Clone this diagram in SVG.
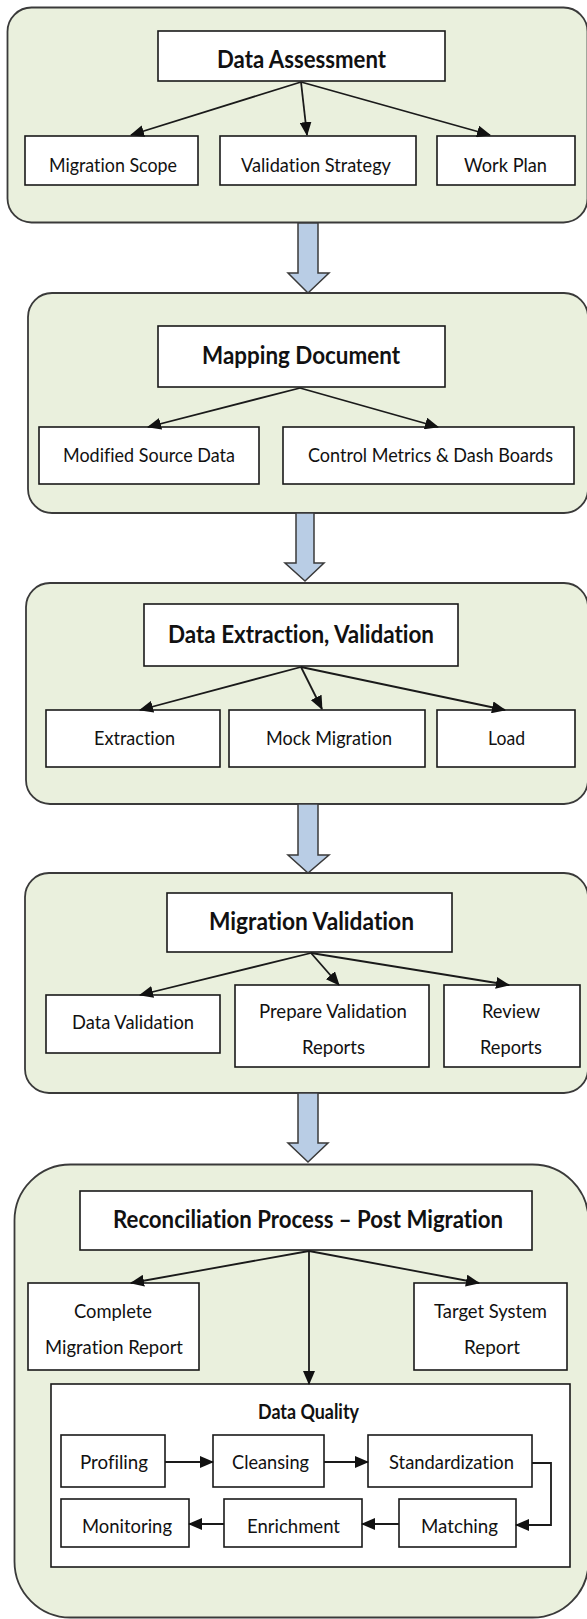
<svg xmlns="http://www.w3.org/2000/svg" width="587" height="1619" viewBox="0 0 587 1619">
<style>
.cont{fill:#EAF0DD;stroke:#3a3a3a;stroke-width:1.8}
.box{fill:#fff;stroke:#1a1a1a;stroke-width:1.6}
.blk{fill:#B9CDE5;stroke:#3a3a3a;stroke-width:1.5}
.t{font-family:Lato,"Liberation Sans",sans-serif;font-size:20px;fill:#111;text-anchor:middle;font-variant-ligatures:none}
.h{font-family:Lato,"Liberation Sans",sans-serif;font-size:25px;font-weight:bold;fill:#111;text-anchor:middle;font-variant-ligatures:none}
.c{fill:none;stroke:#1a1a1a;stroke-width:1.8}
</style>
<defs>
<marker id="ah" markerUnits="userSpaceOnUse" markerWidth="14" markerHeight="12" viewBox="0 0 14 12" refX="13" refY="6" orient="auto">
<path d="M0,0 L14,6 L0,12 z" fill="#111"/>
</marker>
</defs>
<rect width="587" height="1619" fill="#fff"/>

<g id="stage1">
<rect class="cont" x="7.5" y="7.5" width="580" height="215" rx="24"/>
</g>
<g id="stage2">
<rect class="cont" x="28" y="293" width="560" height="220" rx="24"/>
</g>
<g id="stage3">
<rect class="cont" x="26" y="583" width="562" height="221" rx="24"/>
</g>
<g id="stage4">
<rect class="cont" x="25" y="873" width="563" height="220" rx="24"/>
</g>
<g id="stage5">
<rect class="cont" x="14.5" y="1164.5" width="574" height="453" rx="56"/>
</g>

<g id="blockarrows">
<path class="blk" d="M298,223 L318,223 L318,273 L329,273 L308,293 L288,273 L298,273 z"/>
<path class="blk" d="M296,513 L314,513 L314,563 L324,563 L305,581 L285,563 L296,563 z"/>
<path class="blk" d="M298,804 L318,804 L318,855 L329,855 L308,873 L288,855 L298,855 z"/>
<path class="blk" d="M298,1093 L318,1093 L318,1143 L328,1143 L308,1162 L288,1143 L298,1143 z"/>
</g>

<g id="data-assessment"><rect class="box" x="158" y="31" width="287" height="50"/><text class="h" x="301.5" y="68" textLength="169" lengthAdjust="spacingAndGlyphs">Data Assessment</text></g>
<g id="migration-scope"><rect class="box" x="25" y="136" width="173" height="49"/><text class="t" x="113" y="172" textLength="128" lengthAdjust="spacingAndGlyphs">Migration Scope</text></g>
<g id="validation-strategy"><rect class="box" x="220" y="136" width="196" height="49"/><text class="t" x="316" y="172" textLength="150" lengthAdjust="spacingAndGlyphs">Validation Strategy</text></g>
<g id="work-plan"><rect class="box" x="437" y="136" width="138" height="49"/><text class="t" x="505.5" y="172" textLength="83" lengthAdjust="spacingAndGlyphs">Work Plan</text></g>

<g id="mapping-document"><rect class="box" x="158" y="326" width="287" height="61"/><text class="h" x="301" y="364" textLength="198" lengthAdjust="spacingAndGlyphs">Mapping Document</text></g>
<g id="modified-source-data"><rect class="box" x="39" y="427" width="220" height="57"/><text class="t" x="149" y="462" textLength="172" lengthAdjust="spacingAndGlyphs">Modified Source Data</text></g>
<g id="control-metrics"><rect class="box" x="283" y="427" width="291" height="57"/><text class="t" x="430.5" y="462" textLength="245" lengthAdjust="spacingAndGlyphs">Control Metrics &amp; Dash Boards</text></g>

<g id="data-extraction"><rect class="box" x="144" y="604" width="314" height="62"/><text class="h" x="301" y="643" textLength="266" lengthAdjust="spacingAndGlyphs">Data Extraction, Validation</text></g>
<g id="extraction"><rect class="box" x="46" y="710" width="174" height="57"/><text class="t" x="134.5" y="745" textLength="81" lengthAdjust="spacingAndGlyphs">Extraction</text></g>
<g id="mock-migration"><rect class="box" x="229" y="710" width="196" height="57"/><text class="t" x="329" y="745" textLength="126" lengthAdjust="spacingAndGlyphs">Mock Migration</text></g>
<g id="load"><rect class="box" x="437" y="710" width="138" height="57"/><text class="t" x="506.5" y="745" textLength="37" lengthAdjust="spacingAndGlyphs">Load</text></g>

<g id="migration-validation"><rect class="box" x="167" y="893" width="285" height="59"/><text class="h" x="311.5" y="930" textLength="205" lengthAdjust="spacingAndGlyphs">Migration Validation</text></g>
<g id="data-validation"><rect class="box" x="46" y="995" width="174" height="58"/><text class="t" x="133" y="1029" textLength="122" lengthAdjust="spacingAndGlyphs">Data Validation</text></g>
<g id="prepare-validation-reports"><rect class="box" x="235" y="985" width="194" height="82"/><text class="t" x="333" y="1018" textLength="148" lengthAdjust="spacingAndGlyphs">Prepare Validation</text><text class="t" x="333.5" y="1054" textLength="63" lengthAdjust="spacingAndGlyphs">Reports</text></g>
<g id="review-reports"><rect class="box" x="444" y="985" width="136" height="82"/><text class="t" x="511" y="1018" textLength="58" lengthAdjust="spacingAndGlyphs">Review</text><text class="t" x="511" y="1054" textLength="62" lengthAdjust="spacingAndGlyphs">Reports</text></g>

<g id="reconciliation"><rect class="box" x="80" y="1191" width="452" height="59"/><text class="h" x="308" y="1228" textLength="390" lengthAdjust="spacingAndGlyphs">Reconciliation Process – Post Migration</text></g>
<g id="complete-migration-report"><rect class="box" x="28" y="1283" width="171" height="87"/><text class="t" x="113" y="1318" textLength="78" lengthAdjust="spacingAndGlyphs">Complete</text><text class="t" x="114" y="1354" textLength="138" lengthAdjust="spacingAndGlyphs">Migration Report</text></g>
<g id="target-system-report"><rect class="box" x="414" y="1283" width="153" height="87"/><text class="t" x="490.5" y="1318" textLength="113" lengthAdjust="spacingAndGlyphs">Target System</text><text class="t" x="492" y="1354" textLength="56" lengthAdjust="spacingAndGlyphs">Report</text></g>

<g id="data-quality"><rect class="box" x="51" y="1384" width="519" height="183"/><text class="h" x="308.5" y="1419" style="font-size:20px" textLength="101" lengthAdjust="spacingAndGlyphs">Data Quality</text></g>
<g id="profiling"><rect class="box" x="61" y="1435" width="104" height="52"/><text class="t" x="114" y="1469" textLength="68" lengthAdjust="spacingAndGlyphs">Profiling</text></g>
<g id="cleansing"><rect class="box" x="213" y="1435" width="111" height="52"/><text class="t" x="270.5" y="1469" textLength="77" lengthAdjust="spacingAndGlyphs">Cleansing</text></g>
<g id="standardization"><rect class="box" x="368" y="1435" width="164" height="52"/><text class="t" x="451.5" y="1469" textLength="125" lengthAdjust="spacingAndGlyphs">Standardization</text></g>
<g id="monitoring"><rect class="box" x="61" y="1499" width="128" height="48"/><text class="t" x="127" y="1533" textLength="90" lengthAdjust="spacingAndGlyphs">Monitoring</text></g>
<g id="enrichment"><rect class="box" x="224" y="1499" width="138" height="48"/><text class="t" x="293.5" y="1533" textLength="93" lengthAdjust="spacingAndGlyphs">Enrichment</text></g>
<g id="matching"><rect class="box" x="399" y="1499" width="117" height="48"/><text class="t" x="459.5" y="1533" textLength="77" lengthAdjust="spacingAndGlyphs">Matching</text></g>

<g id="connectors">
<line class="c" x1="301" y1="82" x2="131" y2="135" marker-end="url(#ah)"/>
<line class="c" x1="301" y1="82" x2="307" y2="135" marker-end="url(#ah)"/>
<line class="c" x1="301" y1="82" x2="490" y2="135" marker-end="url(#ah)"/>
<line class="c" x1="300" y1="388" x2="148" y2="427" marker-end="url(#ah)"/>
<line class="c" x1="300" y1="388" x2="438" y2="427" marker-end="url(#ah)"/>
<line class="c" x1="301" y1="667" x2="140" y2="710" marker-end="url(#ah)"/>
<line class="c" x1="301" y1="667" x2="322" y2="709" marker-end="url(#ah)"/>
<line class="c" x1="301" y1="667" x2="505" y2="710" marker-end="url(#ah)"/>
<line class="c" x1="311" y1="953" x2="140" y2="995" marker-end="url(#ah)"/>
<line class="c" x1="311" y1="953" x2="339" y2="985" marker-end="url(#ah)"/>
<line class="c" x1="311" y1="953" x2="509" y2="985" marker-end="url(#ah)"/>
<line class="c" x1="309" y1="1251" x2="131" y2="1283" marker-end="url(#ah)"/>
<line class="c" x1="309" y1="1251" x2="479" y2="1283" marker-end="url(#ah)"/>
<line class="c" x1="309" y1="1251" x2="309" y2="1384" marker-end="url(#ah)"/>
<line class="c" x1="165" y1="1462" x2="213" y2="1462" marker-end="url(#ah)"/>
<line class="c" x1="324" y1="1462" x2="368" y2="1462" marker-end="url(#ah)"/>
<polyline class="c" points="532,1463 551,1463 551,1525 516,1525" marker-end="url(#ah)"/>
<line class="c" x1="399" y1="1524" x2="362" y2="1524" marker-end="url(#ah)"/>
<line class="c" x1="224" y1="1524" x2="189" y2="1524" marker-end="url(#ah)"/>
</g>
</svg>
